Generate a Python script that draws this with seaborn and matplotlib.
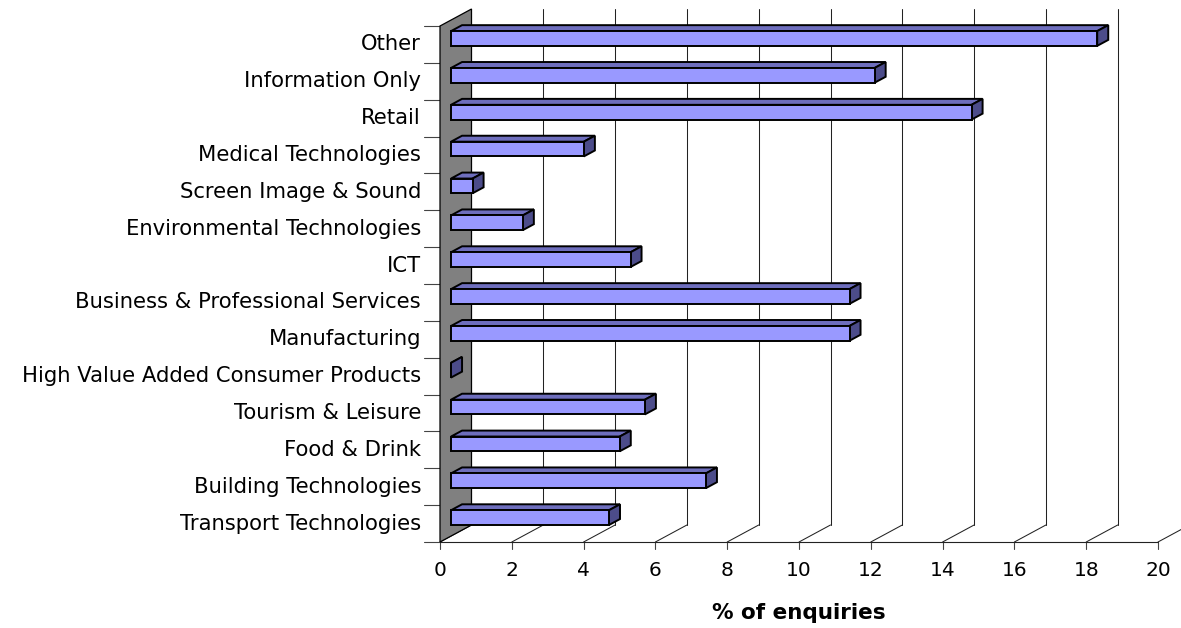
import matplotlib
matplotlib.use("Agg")
import matplotlib.pyplot as plt
from matplotlib.patches import Polygon
import seaborn as sns
import pandas as pd

categories = [
    "Other",
    "Information Only",
    "Retail",
    "Medical Technologies",
    "Screen Image & Sound",
    "Environmental Technologies",
    "ICT",
    "Business & Professional Services",
    "Manufacturing",
    "High Value Added Consumer Products",
    "Tourism & Leisure",
    "Food & Drink",
    "Building Technologies",
    "Transport Technologies",
]
share = [18.0, 11.8, 14.5, 3.7, 0.6, 2.0, 5.0, 11.1, 11.1, 0.0, 5.4, 4.7, 7.1, 4.4]
xticks = [0, 2, 4, 6, 8, 10, 12, 14, 16, 18, 20]
xlabel = "% of enquiries"

df = pd.DataFrame({"category": categories, "share": share})

sns.set_theme(style="white")
plt.rcParams["font.family"] = ["DejaVu Sans"]

W, H = 1181, 628
fig = plt.figure(figsize=(W / 100, H / 100), dpi=100)
ax = fig.add_axes([0, 0, 1, 1])

# pixel scale of the value axis and category axis
PX_X = 35.9
PX_Y = 36.857
X0_PX = 440
Y0_PX = 44.43

# 3-D depth offset of the back wall, in data units
DX = 31.5 / PX_X
DY = -17.0 / PX_Y
F1, F2 = 0.35, 0.70          # bar front / back depth fractions
BAR_H = 0.40

n = len(categories)
xmax = xticks[-1]

FRONT = "#9999ff"
TOP = "#6e6ebd"
SIDE = "#4c4c8a"

# back wall
wall = Polygon([(0, n - 0.5), (DX, n - 0.5 + DY), (DX, -0.5 + DY), (0, -0.5)],
               closed=True, facecolor="#808080", edgecolor="black", lw=0.9, zorder=1)
ax.add_patch(wall)

# gridlines on back plane and floor
for v in xticks:
    if 0 < v < xmax:
        ax.plot([v + DX, v + DX], [n - 0.5 + DY, -0.5 + DY], color="#222222", lw=0.75, zorder=0.5)
    ax.plot([v, v + DX], [n - 0.5, n - 0.5 + DY], color="#222222", lw=0.75, zorder=0.5)
    ax.plot([v, v], [n - 0.5, n - 0.5 + 7 / PX_Y], color="#444444", lw=0.8, zorder=0.5)
    ax.text(v, (570 - Y0_PX) / PX_Y, str(v), ha="center", va="center", fontsize=14.5, color="black")
ax.plot([0, xmax], [n - 0.5, n - 0.5], color="#222222", lw=0.8, zorder=0.6)

# category ticks
for i in range(n + 1):
    ax.plot([-16 / PX_X, 0], [i - 0.5, i - 0.5], color="#444444", lw=0.8, zorder=0.5)

# front faces of the bars
sns.barplot(data=df, x="share", y="category", orient="h", width=BAR_H,
            color=FRONT, saturation=1, edgecolor="black", linewidth=1.4, ax=ax, zorder=3)

ddx = (F2 - F1) * DX
ddy = (F2 - F1) * DY
for p in ax.patches:
    if p is wall:
        continue
    p.set_x(p.get_x() + F1 * DX)
    p.set_y(p.get_y() + F1 * DY)
    p.set_facecolor(FRONT)
    x0 = p.get_x()
    x1 = x0 + p.get_width()
    yt = p.get_y()
    yb = yt + p.get_height()
    top = Polygon([(x0, yt), (x1, yt), (x1 + ddx, yt + ddy), (x0 + ddx, yt + ddy)],
                  closed=True, facecolor=TOP, edgecolor="black", lw=1.4, zorder=2.9)
    side = Polygon([(x1, yt), (x1 + ddx, yt + ddy), (x1 + ddx, yb + ddy), (x1, yb)],
                   closed=True, facecolor=SIDE, edgecolor="black", lw=1.4, zorder=2.9)
    ax.add_patch(top)
    ax.add_patch(side)

# category labels
for i, c in enumerate(categories):
    ax.text(-19 / PX_X, i, c, ha="right", va="center", fontsize=15.2, color="black")

ax.text(10.0, (613 - Y0_PX) / PX_Y, xlabel, ha="center", va="center",
        fontsize=15.5, fontweight="bold", color="black")

ax.set_xlim(-X0_PX / PX_X, (W - X0_PX) / PX_X)
ax.set_ylim((H - Y0_PX) / PX_Y, -Y0_PX / PX_Y)
ax.axis("off")

fig.savefig("out.png", dpi=100)
